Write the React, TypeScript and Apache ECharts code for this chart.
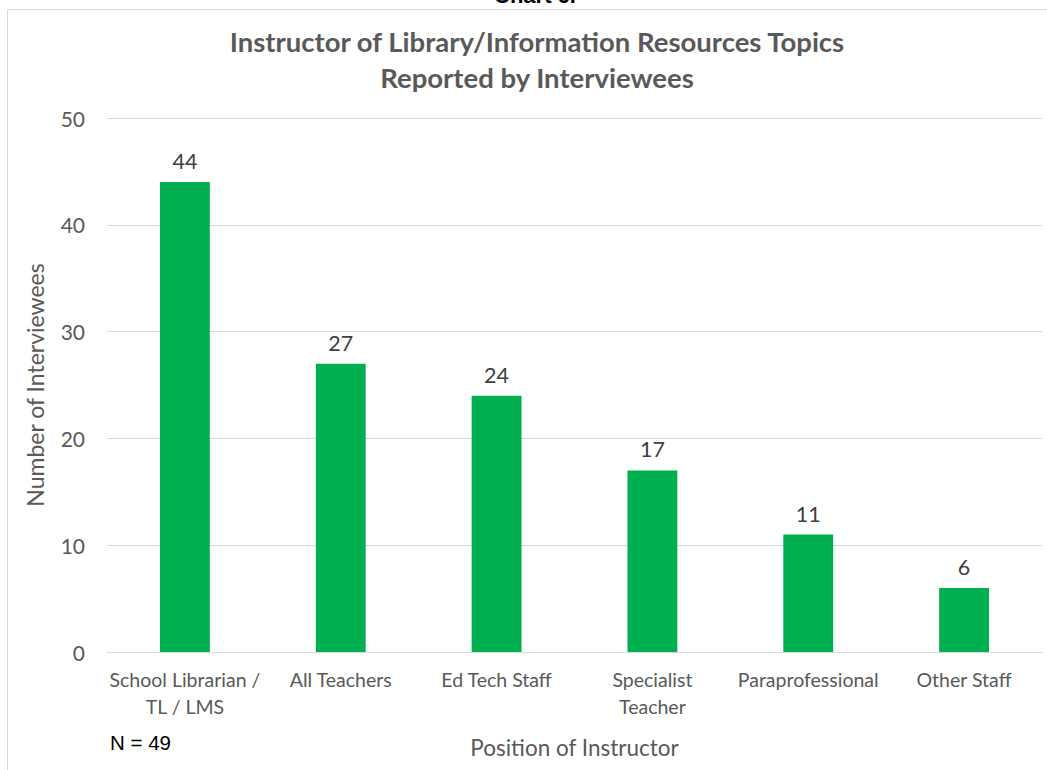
import React, { useEffect, useRef } from "react";
import * as echarts from "echarts";

const categories = [
  "School Librarian /\nTL / LMS",
  "All Teachers",
  "Ed Tech Staff",
  "Specialist\nTeacher",
  "Paraprofessional",
  "Other Staff",
];
const values = [44, 27, 24, 17, 11, 6];
const yTicks = { min: 0, max: 50, interval: 10 };

const FONT = "Lato, 'Open Sans', sans-serif";

export default function App() {
  const ref = useRef<HTMLDivElement>(null);
  useEffect(() => {
    if (!ref.current) return;
    const chart = echarts.init(ref.current, undefined, { renderer: "svg" });
    chart.setOption({
      animation: false,
      backgroundColor: "#ffffff",
      textStyle: { fontFamily: FONT },
      graphic: [
        {
          type: "rect",
          shape: { x: 7.5, y: 9.5, width: 1100, height: 800 },
          style: { fill: "none", stroke: "#d9d9d9", lineWidth: 1 },
          silent: true,
        },
        {
          type: "text",
          x: 535,
          y: 6,
          style: {
            text: "Chart 6.",
            fontFamily: "Liberation Sans, Arial, sans-serif",
            fontWeight: "bold",
            fontSize: 22,
            fill: "#000000",
            textAlign: "center",
            textVerticalAlign: "bottom",
          },
        },
        {
          type: "text",
          x: 110,
          y: 742,
          style: {
            text: "N = 49",
            fontFamily: "Liberation Sans, Arial, sans-serif",
            fontSize: 20.5,
            fill: "#000000",
            textAlign: "left",
            textVerticalAlign: "middle",
          },
        },
      ],
      title: {
        text: "Instructor of Library/Information Resources Topics\nReported by Interviewees",
        left: 532,
        textAlign: "center",
        top: 18,
        textStyle: {
          fontFamily: FONT,
          fontWeight: "bold",
          fontSize: 27.5,
          color: "#595959",
          lineHeight: 36,
        },
      },
      grid: { left: 107, right: 5, top: 118, bottom: 118, containLabel: false },
      xAxis: {
        type: "category",
        data: categories,
        name: "Position of Instructor",
        nameLocation: "middle",
        nameGap: 84,
        nameTextStyle: { fontFamily: FONT, fontSize: 22.5, color: "#595959" },
        axisLine: { lineStyle: { color: "#d9d9d9", width: 1 } },
        axisTick: { show: false },
        axisLabel: {
          interval: 0,
          fontFamily: FONT,
          fontSize: 19.5,
          color: "#595959",
          lineHeight: 27,
          margin: 14,
        },
      },
      yAxis: {
        type: "value",
        min: yTicks.min,
        max: yTicks.max,
        interval: yTicks.interval,
        name: "Number of Interviewees",
        nameLocation: "middle",
        nameGap: 61,
        nameTextStyle: { fontFamily: FONT, fontSize: 23, color: "#595959" },
        axisLine: { show: false },
        axisTick: { show: false },
        axisLabel: { fontFamily: FONT, fontSize: 21, color: "#595959", margin: 22 },
        splitLine: { lineStyle: { color: "#d9d9d9", width: 1 } },
      },
      series: [
        {
          type: "bar",
          data: values,
          barWidth: "32%",
          itemStyle: { color: "#00B050" },
          label: {
            show: true,
            position: "top",
            distance: 10,
            fontFamily: FONT,
            fontSize: 21.5,
            color: "#404040",
          },
        },
      ],
    });
    return () => chart.dispose();
  }, []);
  return (
    <div
      ref={ref}
      style={{ position: "absolute", left: 0, top: 0, width: 1047, height: 770 }}
    />
  );
}
